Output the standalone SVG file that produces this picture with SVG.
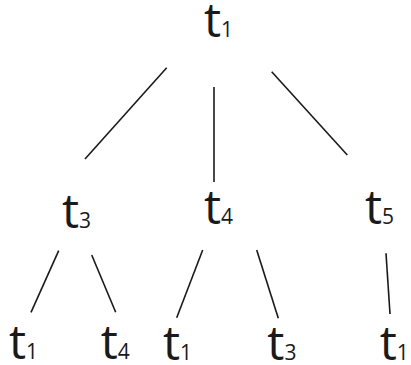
<svg xmlns="http://www.w3.org/2000/svg" width="411" height="365" viewBox="0 0 411 365">
<style>
.lbl{font-family:"Open Sans","Liberation Sans",sans-serif;font-size:48px;fill:#1a1a1a}
.sub{font-size:21px}
.edge{stroke:#1a1a1a;stroke-width:1.6;fill:none}
</style>
<rect width="411" height="365" fill="#fff"/>
<g id="connectors">
<line class="edge" x1="166.7" y1="67.7" x2="85" y2="159"/>
<line class="edge" x1="214" y1="87" x2="214" y2="182"/>
<line class="edge" x1="271.7" y1="71.7" x2="347.3" y2="155"/>
<line class="edge" x1="58.7" y1="250.7" x2="31" y2="312.3"/>
<line class="edge" x1="91.7" y1="255" x2="115.7" y2="312.3"/>
<line class="edge" x1="202.7" y1="250" x2="176.7" y2="317.7"/>
<line class="edge" x1="256.7" y1="250" x2="278.3" y2="318.3"/>
<line class="edge" x1="386" y1="253.3" x2="390" y2="314"/>
</g>
<g id="n_root"><text class="lbl" x="204" y="37">t<tspan class="sub">1</tspan></text></g>
<g id="n_t3"><text class="lbl" x="62" y="228">t<tspan class="sub">3</tspan></text></g>
<g id="n_t4"><text class="lbl" x="204" y="224">t<tspan class="sub">4</tspan></text></g>
<g id="n_t5"><text class="lbl" x="365" y="224">t<tspan class="sub">5</tspan></text></g>
<g id="n_t3_t1"><text class="lbl" x="9" y="359">t<tspan class="sub">1</tspan></text></g>
<g id="n_t3_t4"><text class="lbl" x="100.7" y="359">t<tspan class="sub">4</tspan></text></g>
<g id="n_t4_t1"><text class="lbl" x="163" y="360">t<tspan class="sub">1</tspan></text></g>
<g id="n_t4_t3"><text class="lbl" x="267.3" y="360">t<tspan class="sub">3</tspan></text></g>
<g id="n_t5_t1"><text class="lbl" x="379.7" y="360">t<tspan class="sub">1</tspan></text></g>
</svg>
